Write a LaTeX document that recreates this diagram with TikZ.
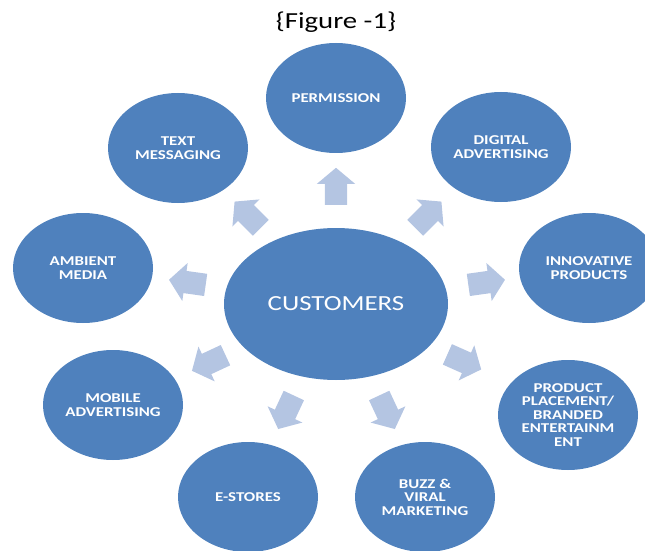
\documentclass[tikz,border=0pt]{standalone}
\usepackage{fontspec}
\setmainfont{Carlito}[FakeStretch=1.25]
\usepackage{tikz}
\usetikzlibrary{shapes.geometric, shapes.arrows}

\definecolor{blobblue}{HTML}{4F81BD}
\definecolor{pointerblue}{HTML}{B4C5E2}

\tikzset{
	hub/.style={ellipse, fill=blobblue, text=white, inner sep=0pt,
		minimum width=224pt, minimum height=152pt,
		font=\fontsize{21.5}{21.5}\selectfont},
	spoke/.style={ellipse, fill=blobblue, text=white, inner sep=0pt,
		minimum width=140pt, minimum height=110pt, align=center,
		font=\bfseries\fontsize{13.5}{13.5}\selectfont},
	pointer/.style={single arrow, fill=pointerblue, inner xsep=0pt, inner ysep=11pt,
		minimum height=37pt,
		single arrow head extend=8pt, single arrow tip angle=100}
}

\begin{document}
\begin{tikzpicture}[x=1pt, y=1pt]
			\useasboundingbox (0,0) rectangle (645,550);
			
			\node (title) at (336,528) {\fontsize{23}{23}\selectfont \{Figure -1\}};
			\node[hub] (cust) at (336,246) {CUSTOMERS};
			
			% outer bubbles, clockwise from the top
			\foreach \name/\x/\y/\txt in {perm/336/452/PERMISSION,
				digital/501/403/{DIGITAL\\ADVERTISING},
				innov/589/282/{INNOVATIVE\\PRODUCTS},
				product/568/135/{PRODUCT\\PLACEMENT/\\BRANDED\\ENTERTAINM\\ENT},
				buzz/425/53/{BUZZ \&\\VIRAL\\MARKETING},
				estores/248/53/E-STORES,
				mobile/113/145/{MOBILE\\ADVERTISING},
				ambient/83/282/{AMBIENT\\MEDIA},
				textmsg/178/402/{TEXT\\MESSAGING}}
			{
				\node[spoke] (\name) at (\x,\y) {\txt};
			}
			
			% block arrows pointing away from the hub
			\foreach \name/\x/\y/\a in {p1/336/359/90, p2/425/332/45, p3/482/267/8,
				p4/460/190/-24, p5/385/142/-65, p6/288/142/-115,
				p7/213/189/205, p8/192/267/172, p9/251/332/135}
			{
				\node[pointer, rotate=\a] (\name) at (\x,\y) {};
			}
			\end{tikzpicture}
\end{document}
